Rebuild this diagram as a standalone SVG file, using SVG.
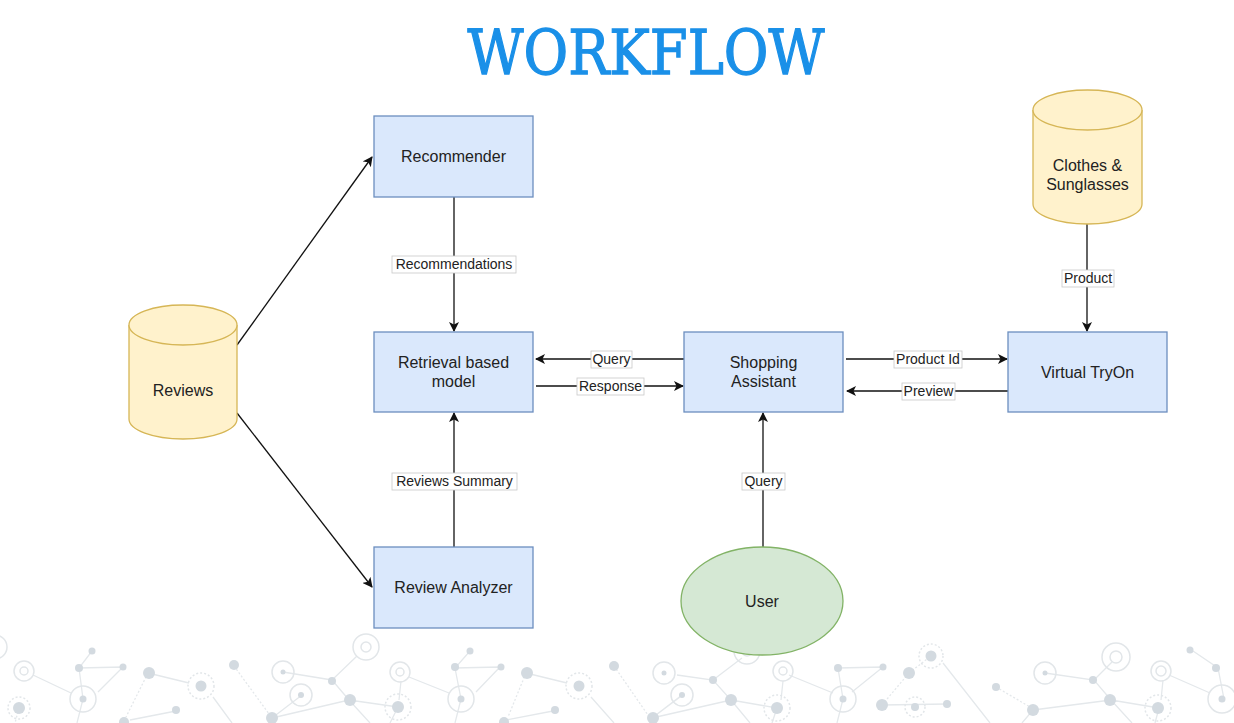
<svg xmlns="http://www.w3.org/2000/svg" width="1234" height="723" viewBox="0 0 1234 723">
<style>
.title{font-family:"DejaVu Serif",serif;font-size:62px;fill:#1a90e8;stroke:#1a90e8;stroke-width:1.3}
.box{fill:#dae8fc;stroke:#6c8ebf;stroke-width:1.3}
.cyl{fill:#fff2cc;stroke:#d6b656;stroke-width:1.3}
.ell{fill:#d5e8d4;stroke:#82b366;stroke-width:1.3}
.nt{font-family:"Liberation Sans",Arial,sans-serif;font-size:16px;fill:#222;text-anchor:middle}
.edge{stroke:#111;stroke-width:1.3;fill:none}
.lbg{fill:#fff;stroke:#c8c8c8;stroke-width:0.8}
.lt{font-family:"Liberation Sans",Arial,sans-serif;font-size:14px;fill:#222;text-anchor:middle}
.dl{stroke:#e4e8eb;stroke-width:1.3;fill:none}
.dd{stroke:#e4e8eb;stroke-width:1.3;fill:none;stroke-dasharray:2 2}
.dot{fill:#d3dae0}
.rg{fill:none;stroke:#e2e6e9;stroke-width:1.5}
.rgd{fill:none;stroke:#e2e6e9;stroke-width:1.5;stroke-dasharray:2 2}
</style>
<defs>
<marker id="arr" viewBox="0 0 10 10" refX="9" refY="5" markerWidth="10" markerHeight="10" markerUnits="userSpaceOnUse" orient="auto">
<path d="M0,0 L10,5 L0,10 L2.5,5 Z" fill="#111"/>
</marker>
</defs>
<rect width="1234" height="723" fill="#fff"/>
<g id="background-pattern">
<path class="dl" d="M92,651 L79,668 L123,667 M79,668 L83,699 M123,667 L98,692 M33,675 L71,693 M83,699 L77,723 M148,673 L189,683 M176,711 L130,720 M213,697 L232,723 M283,672 L332,680 M357,656 L332,680 L349,700 M302,695 L272,718 L349,700 L398,707 M349,700 L370,723 M398,707 L390,723 M401,681 L399,700 M409,677 L449,693 M470,651 L455,668 L500,667 M455,668 L461,699 M500,667 L476,692 M461,699 L455,723 M526,673 L567,683 M553,711 L506,720 M591,697 L614,723 M652,718 L680,697 M677,675 L713,680 L731,700 M713,680 L742,658 M682,695 L652,718 L731,700 L777,708 M731,700 L750,723 M783,681 L781,700 M789,675 L833,693 M777,708 L772,723 M838,668 L883,667 M838,668 L843,699 M883,667 L852,692 M843,699 L837,723 M882,705 L947,704 M943,663 L990,723 M1033,710 L1111,700 M1045,673 L1094,680 L1111,700 M1094,680 L1112,662 M1111,700 L1159,708 M1111,700 L1132,723 M1163,680 L1161,700 M1169,675 L1210,693 M1193,651 L1218,668 L1224,699 M1159,708 L1155,723 M1033,710 L1022,723"/>
<path class="dd" d="M148,673 L126,717 M234,666 L272,718 M526,673 L508,717 M614,666 L650,718 M909,673 L882,705 M909,673 L931,656 M996,687 L1030,707 M19,708 L15,723"/>
<circle class="rg" cx="-5" cy="647" r="12"/>
<circle class="rg" cx="24" cy="671" r="10"/><circle class="rg" cx="24" cy="671" r="4"/>
<circle class="dot" cx="92" cy="651" r="3.5"/>
<circle class="dot" cx="79" cy="668" r="4"/>
<circle class="dot" cx="123" cy="667" r="3.5"/>
<circle class="rg" cx="83" cy="699" r="13"/><circle class="dot" cx="83" cy="699" r="3.5"/>
<circle class="rgd" cx="19" cy="708" r="11"/><circle class="dot" cx="19" cy="708" r="6"/>
<circle class="dot" cx="149" cy="673" r="6"/>
<circle class="rgd" cx="201" cy="686" r="13"/><circle class="dot" cx="201" cy="686" r="5.5"/>
<circle class="dot" cx="176" cy="710" r="4"/>
<circle class="dot" cx="124" cy="722" r="5"/>
<circle class="dot" cx="234" cy="665" r="5"/>
<circle class="rg" cx="283" cy="672" r="11"/><circle class="dot" cx="283" cy="672" r="2.5"/>
<circle class="rg" cx="366" cy="647" r="13"/><circle class="rg" cx="366" cy="647" r="5"/>
<circle class="dot" cx="332" cy="681" r="4"/>
<circle class="rg" cx="301" cy="695" r="11"/><circle class="dot" cx="301" cy="695" r="3"/>
<circle class="dot" cx="350" cy="700" r="6"/>
<circle class="dot" cx="272" cy="718" r="6"/>
<circle class="rgd" cx="398" cy="707" r="13"/><circle class="dot" cx="398" cy="707" r="6"/>
<circle class="rg" cx="400" cy="672" r="10"/><circle class="rg" cx="400" cy="672" r="4"/>
<circle class="dot" cx="470" cy="651" r="3.5"/>
<circle class="dot" cx="455" cy="667" r="4"/>
<circle class="dot" cx="501" cy="667" r="3.5"/>
<circle class="rg" cx="461" cy="699" r="13"/><circle class="dot" cx="461" cy="699" r="3.5"/>
<circle class="dot" cx="527" cy="673" r="6"/>
<circle class="rgd" cx="579" cy="686" r="13"/><circle class="dot" cx="579" cy="686" r="5.5"/>
<circle class="dot" cx="555" cy="710" r="4"/>
<circle class="dot" cx="504" cy="722" r="5"/>
<circle class="dot" cx="614" cy="666" r="5"/>
<circle class="rg" cx="664" cy="673" r="11"/><circle class="dot" cx="664" cy="673" r="2.5"/>
<circle class="rg" cx="747" cy="651" r="13"/><circle class="rg" cx="747" cy="651" r="5"/>
<circle class="dot" cx="713" cy="680" r="4"/>
<circle class="rg" cx="682" cy="695" r="11"/><circle class="dot" cx="682" cy="695" r="3"/>
<circle class="dot" cx="731" cy="700" r="6"/>
<circle class="dot" cx="653" cy="718" r="6"/>
<circle class="rgd" cx="777" cy="708" r="13"/><circle class="dot" cx="777" cy="708" r="6"/>
<circle class="rg" cx="783" cy="671" r="10"/><circle class="rg" cx="783" cy="671" r="4"/>
<circle class="dot" cx="838" cy="668" r="4"/>
<circle class="dot" cx="883" cy="667" r="3.5"/>
<circle class="rg" cx="843" cy="699" r="13"/><circle class="dot" cx="843" cy="699" r="3.5"/>
<circle class="dot" cx="909" cy="673" r="6"/>
<circle class="rgd" cx="931" cy="656" r="12"/><circle class="dot" cx="931" cy="656" r="5.5"/>
<circle class="dot" cx="882" cy="705" r="6"/>
<circle class="rgd" cx="915" cy="707" r="10"/><circle class="dot" cx="915" cy="707" r="4"/>
<circle class="dot" cx="947" cy="704" r="4"/>
<circle class="dot" cx="996" cy="687" r="4"/>
<circle class="dot" cx="1033" cy="710" r="6"/>
<circle class="rg" cx="1045" cy="673" r="11"/><circle class="dot" cx="1045" cy="673" r="2.5"/>
<circle class="dot" cx="1093" cy="680" r="4"/>
<circle class="rg" cx="1116" cy="657" r="14"/><circle class="rg" cx="1116" cy="657" r="6"/>
<circle class="dot" cx="1110" cy="700" r="6"/>
<circle class="rgd" cx="1158" cy="708" r="13"/><circle class="dot" cx="1158" cy="708" r="6"/>
<circle class="rg" cx="1161" cy="671" r="10"/><circle class="rg" cx="1161" cy="671" r="5"/>
<circle class="dot" cx="1190" cy="650" r="3.5"/>
<circle class="dot" cx="1216" cy="668" r="4"/>
<circle class="rg" cx="1222" cy="699" r="14"/><circle class="dot" cx="1222" cy="699" r="3.5"/>
</g>
<text class="title" x="646" y="74" text-anchor="middle" textLength="357" lengthAdjust="spacingAndGlyphs">WORKFLOW</text>
<g id="connectors">
<line class="edge" x1="237" y1="345" x2="372" y2="157" marker-end="url(#arr)"/>
<line class="edge" x1="237" y1="413" x2="372" y2="587" marker-end="url(#arr)"/>
<line class="edge" x1="454" y1="197" x2="454" y2="331" marker-end="url(#arr)"/>
<line class="edge" x1="454" y1="547" x2="454" y2="413" marker-end="url(#arr)"/>
<line class="edge" x1="684" y1="359" x2="536" y2="359" marker-end="url(#arr)"/>
<line class="edge" x1="536" y1="386" x2="683" y2="386" marker-end="url(#arr)"/>
<line class="edge" x1="846" y1="359" x2="1007" y2="359" marker-end="url(#arr)"/>
<line class="edge" x1="1008" y1="391" x2="847" y2="391" marker-end="url(#arr)"/>
<line class="edge" x1="1087" y1="224" x2="1087" y2="331" marker-end="url(#arr)"/>
<line class="edge" x1="763" y1="547" x2="763" y2="413" marker-end="url(#arr)"/>
<g id="labels">
<rect class="lbg" x="392" y="256" width="124" height="17"/>
<text class="lt" x="454" y="269">Recommendations</text>
<rect class="lbg" x="392" y="473" width="125" height="17"/>
<text class="lt" x="454.5" y="486">Reviews Summary</text>
<rect class="lbg" x="591" y="351" width="41" height="17"/>
<text class="lt" x="611.5" y="364">Query</text>
<rect class="lbg" x="577" y="378" width="67" height="17"/>
<text class="lt" x="610.5" y="391">Response</text>
<rect class="lbg" x="894" y="351" width="68" height="17"/>
<text class="lt" x="928" y="364">Product Id</text>
<rect class="lbg" x="902" y="383" width="53" height="17"/>
<text class="lt" x="928.5" y="396">Preview</text>
<rect class="lbg" x="1062" y="270" width="52" height="17"/>
<text class="lt" x="1088" y="283">Product</text>
<rect class="lbg" x="742" y="473" width="43" height="17"/>
<text class="lt" x="763.5" y="486">Query</text>
</g>
</g>
<g id="recommender">
<rect class="box" x="374" y="116" width="159" height="81"/>
<text class="nt" x="453.5" y="162">Recommender</text>
</g>
<g id="retrieval">
<rect class="box" x="374" y="332" width="159" height="80"/>
<text class="nt" x="453.5" y="368">Retrieval based</text>
<text class="nt" x="453.5" y="387">model</text>
</g>
<g id="review-analyzer">
<rect class="box" x="374" y="547" width="159" height="81"/>
<text class="nt" x="453.5" y="593">Review Analyzer</text>
</g>
<g id="shopping-assistant">
<rect class="box" x="684" y="332" width="159" height="80"/>
<text class="nt" x="763.5" y="368">Shopping</text>
<text class="nt" x="763.5" y="387">Assistant</text>
</g>
<g id="virtual-tryon">
<rect class="box" x="1008" y="332" width="159" height="80"/>
<text class="nt" x="1087.5" y="378">Virtual TryOn</text>
</g>
<g id="reviews">
<path class="cyl" d="M129,325 A54,20 0 0 1 237,325 L237,419 A54,20 0 0 1 129,419 Z"/>
<path class="cyl" d="M129,325 A54,20 0 0 0 237,325"/>
<text class="nt" x="183" y="396">Reviews</text>
</g>
<g id="clothes">
<path class="cyl" d="M1033,110 A54.5,20 0 0 1 1142,110 L1142,204 A54.5,20 0 0 1 1033,204 Z"/>
<path class="cyl" d="M1033,110 A54.5,20 0 0 0 1142,110"/>
<text class="nt" x="1087.5" y="171">Clothes &amp;</text>
<text class="nt" x="1087.5" y="190">Sunglasses</text>
</g>
<g id="user">
<ellipse class="ell" cx="762" cy="601" rx="81" ry="54"/>
<text class="nt" x="762" y="607">User</text>
</g>
</svg>
